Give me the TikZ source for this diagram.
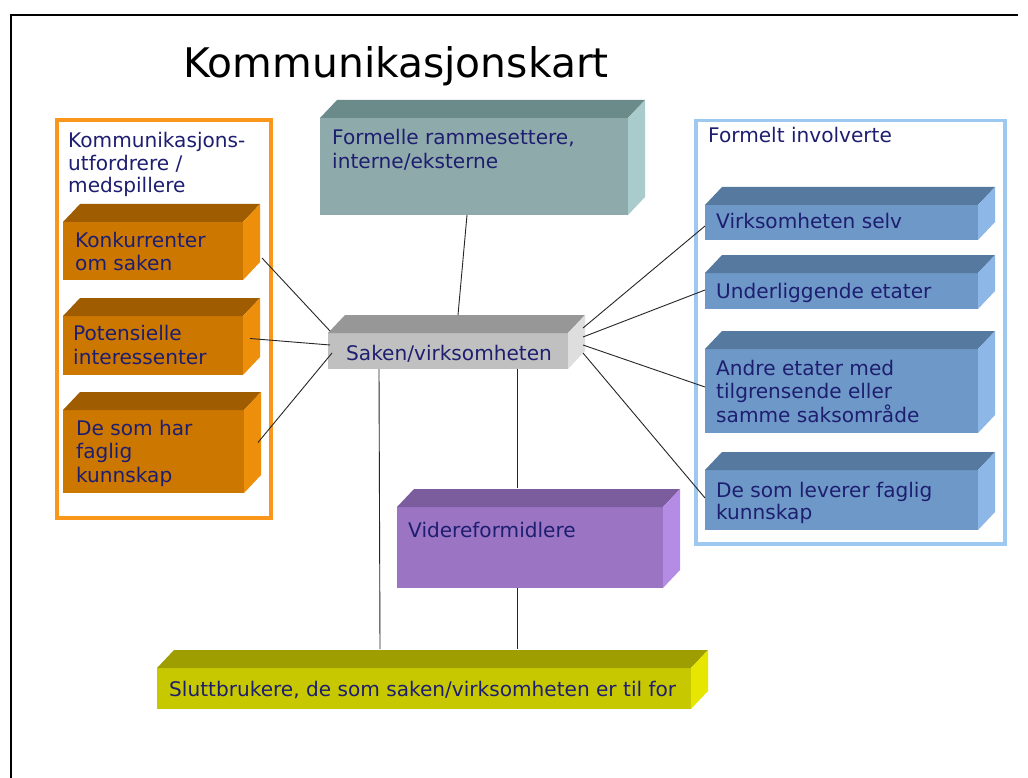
\documentclass[tikz,border=0pt]{standalone}
\usepackage{fontspec}
\setmainfont{DejaVu Sans}
\usetikzlibrary{calc}
\definecolor{txt}{HTML}{1E1E70}
\definecolor{tef}{HTML}{8FAAAA}\definecolor{tet}{HTML}{6B8A8A}\definecolor{tes}{HTML}{AACBCB}
\definecolor{grf}{HTML}{C0C0C0}\definecolor{grt}{HTML}{979797}\definecolor{grs}{HTML}{DEDEDE}
\definecolor{orf}{HTML}{CC7700}\definecolor{ort}{HTML}{A05C00}\definecolor{ors}{HTML}{EE8F0C}
\definecolor{blf}{HTML}{6E98C8}\definecolor{blt}{HTML}{567A9F}\definecolor{bls}{HTML}{8CB7E6}
\definecolor{puf}{HTML}{9B75C4}\definecolor{put}{HTML}{7B5C9C}\definecolor{pus}{HTML}{B48CE6}
\definecolor{yef}{HTML}{C8C800}\definecolor{yet}{HTML}{9E9E00}\definecolor{yes}{HTML}{E6E600}
\definecolor{orborder}{HTML}{FA9619}
\definecolor{blborder}{HTML}{9DC8F0}
\tikzset{
  txtnode/.style={anchor=base west, inner sep=0pt, text=txt, font=\fontsize{20.1}{23.5}\selectfont, align=left},
  face/.style={inner sep=0pt, outer sep=0pt, anchor=north west, draw=none},
  conn/.style={draw=black!85, line width=0.9pt},
  container/.style={inner sep=0pt, anchor=north west, fill=white},
}
\newcommand\mkbox[6]{%
  \node[face, fill=#6f, minimum width={#4pt-#2pt}, minimum height={#5pt-#3pt}] (#1) at (#2,#3) {};
  \fill[#6t] (#1.north west) -- ([shift={(17,-18)}]#1.north west) -- ([shift={(17,-18)}]#1.north east) -- (#1.north east) -- cycle;
  \fill[#6s] (#1.north east) -- ([shift={(17,-18)}]#1.north east) -- ([shift={(17,-18)}]#1.south east) -- (#1.south east) -- cycle;
}
\begin{document}
\begin{tikzpicture}[x=1pt,y=-1pt]
\useasboundingbox (0,0) rectangle (1028,778);
\fill[white] (0,0) rectangle (1028,778);
% frame
\draw[line width=2.2pt] (11,778) -- (11,15) -- (1018,15);
% title
\node[anchor=base west, inner sep=0pt, font=\fontsize{40.8}{44}\selectfont] (title) at (183,78) {Kommunikasjonskart};
% containers
\node[container, draw=orborder, line width=4pt, minimum width=214pt, minimum height=398pt] (left) at (55,118) {};
\node[container, draw=blborder, line width=3.5pt, minimum width=309pt, minimum height=423pt] (right) at (694,119) {};
\node[txtnode, font=\fontsize{20.1}{22.5}\selectfont] (leftlab) at (68,193) {Kommunikasjons-\\utfordrere /\\medspillere};
\node[txtnode] (rightlab) at (708,143) {Formelt involverte};
% boxes
\mkbox{form}{320}{118}{628}{215}{te}
\mkbox{sak}{328}{333}{568}{369}{gr}
\mkbox{kon}{63}{222}{243}{280}{or}
\mkbox{pot}{63}{316}{243}{375}{or}
\mkbox{des}{63}{410}{244}{493}{or}
\mkbox{virk}{705}{205}{978}{240}{bl}
\mkbox{und}{705}{273}{978}{309}{bl}
\mkbox{and}{705}{349}{978}{433}{bl}
\mkbox{lev}{705}{470}{978}{530}{bl}
\mkbox{vid}{397}{507}{663}{588}{pu}
\mkbox{slutt}{157}{668}{691}{709}{ye}
% texts (base anchor = baseline of the last line)
\node[txtnode] (formt) at (332,168.5) {Formelle rammesettere,\\interne/eksterne};
\node[txtnode] (sakt) at (346,360) {Saken/virksomheten};
\node[txtnode] (kont) at (75,270.5) {Konkurrenter\\om saken};
\node[txtnode] (pott) at (73,364) {Potensielle\\interessenter};
\node[txtnode] (dest) at (76,482) {De som har\\faglig\\kunnskap};
\node[txtnode] (virkt) at (716,229) {Virksomheten selv};
\node[txtnode] (undt) at (716,298) {Underliggende etater};
\node[txtnode] (andt) at (716,422) {Andre etater med\\tilgrensende eller\\samme saksområde};
\node[txtnode, font=\fontsize{20.1}{22}\selectfont] (levt) at (716,519) {De som leverer faglig\\kunnskap};
\node[txtnode] (vidt) at (408,537) {Videreformidlere};
\node[txtnode] (sluttt) at (169,696) {Sluttbrukere, de som saken/virksomheten er til for};
% connectors
\draw[conn] ([shift={(-7,0)}]form.south) -- ([shift={(10,-18)}]sak.north);
\draw[conn] ([shift={(19,7)}]kon.east) -- ([shift={(2,-20)}]sak.west);
\draw[conn] ([shift={(7,-7)}]pot.east) -- ([shift={(2,-6)}]sak.west);
\draw[conn] ([shift={(14,-9)}]des.east) -- ([shift={(4,2)}]sak.west);
\draw[conn] ([shift={(15,-23)}]sak.east) -- ([shift={(0,3.5)}]virk.west);
\draw[conn] ([shift={(15,-14)}]sak.east) -- ([shift={(0,-1)}]und.west);
\draw[conn] ([shift={(15,-6)}]sak.east) -- ([shift={(0,-4)}]and.west);
\draw[conn] ([shift={(15,2)}]sak.east) -- ([shift={(0,-2)}]lev.west);
\draw[conn] ([shift={(-69,0)}]sak.south) -- ([shift={(-44,-19)}]slutt.north);
\draw[conn] ([shift={(69,0)}]sak.south) -- ([shift={(-13,-19)}]vid.north);
\draw[conn] ([shift={(-13,0)}]vid.south) -- ([shift={(93,-19)}]slutt.north);
\end{tikzpicture}
\end{document}
